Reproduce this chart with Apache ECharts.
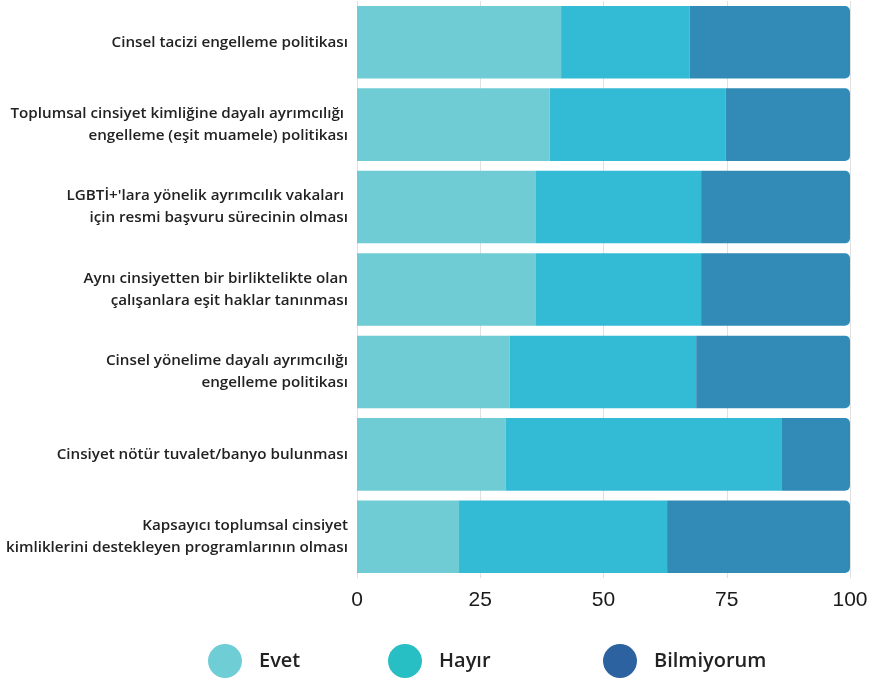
<!DOCTYPE html>
<html>
<head>
<meta charset="utf-8">
<script src="https://cdn.jsdelivr.net/npm/echarts@6/dist/echarts.min.js"></script>
<style>html,body{margin:0;padding:0;background:#fff;}#c{width:871px;height:679px;}</style>
</head>
<body>
<div id="c"></div>
<script>
const categories = [
  "Cinsel tacizi engelleme politikası",
  "Toplumsal cinsiyet kimliğine dayalı ayrımcılığı \nengelleme (eşit muamele) politikası",
  "LGBTİ+'lara yönelik ayrımcılık vakaları \niçin resmi başvuru sürecinin olması",
  "Aynı cinsiyetten bir birliktelikte olan\nçalışanlara eşit haklar tanınması",
  "Cinsel yönelime dayalı ayrımcılığı\nengelleme politikası",
  "Cinsiyet nötür tuvalet/banyo bulunması",
  "Kapsayıcı toplumsal cinsiyet\nkimliklerini destekleyen programlarının olması"
];
const evet = [41.4, 39.1, 36.3, 36.3, 31.0, 30.2, 20.7];
const hayir = [26.1, 35.7, 33.5, 33.5, 37.8, 56.0, 42.2];
const bilmiyorum = [32.5, 25.2, 30.2, 30.2, 31.2, 13.8, 37.1];
const xTicks = [0, 25, 50, 75, 100];

const seriesNames = ["Evet", "Hayır", "Bilmiyorum"];
const barColors = ["#6FCCD4", "#33BAD4", "#318BB6"];
const legendColors = ["#6ECDD5", "#27BEC4", "#2D62A0"];
const legendLeft = [208, 388, 603];

const chart = echarts.init(document.getElementById('c'));
const data = [evet, hayir, bilmiyorum];
chart.setOption({
  animation: false,
  grid: { left: 357, right: 21, top: 1, bottom: 101, containLabel: false },
  xAxis: {
    type: 'value', min: 0, max: 100, interval: 25,
    axisLine: { show: false }, axisTick: { show: false },
    splitLine: { show: true, lineStyle: { color: '#e0e0e0', width: 1 } },
    axisLabel: { fontFamily: 'Liberation Sans', fontSize: 21, color: '#1a1a1a', margin: 12,
      formatter: v => xTicks.includes(v) ? String(v) : '' }
  },
  yAxis: {
    type: 'category', data: categories, inverse: true,
    axisLine: { show: false }, axisTick: { show: false },
    axisLabel: { fontFamily: 'Open Sans', fontSize: 15.2, color: '#222', lineHeight: 22, margin: 9, fontWeight: 600 }
  },
  legend: seriesNames.map((n, i) => ({
    data: [{ name: n, itemStyle: { color: legendColors[i] } }],
    left: legendLeft[i], top: 644, padding: 0,
    icon: 'circle', itemWidth: 34, itemHeight: 34,
    textStyle: { fontFamily: 'Open Sans', fontSize: 20, fontWeight: 600, color: '#222', padding: [20, 0, 0, 12] }
  })),
  series: seriesNames.map((n, i) => ({
    name: n, type: 'bar', stack: 'all', data: data[i],
    barWidth: '88%',
    itemStyle: { color: barColors[i], borderRadius: i === 2 ? [0, 5, 5, 0] : 0 }
  }))
});
</script>
</body>
</html>
